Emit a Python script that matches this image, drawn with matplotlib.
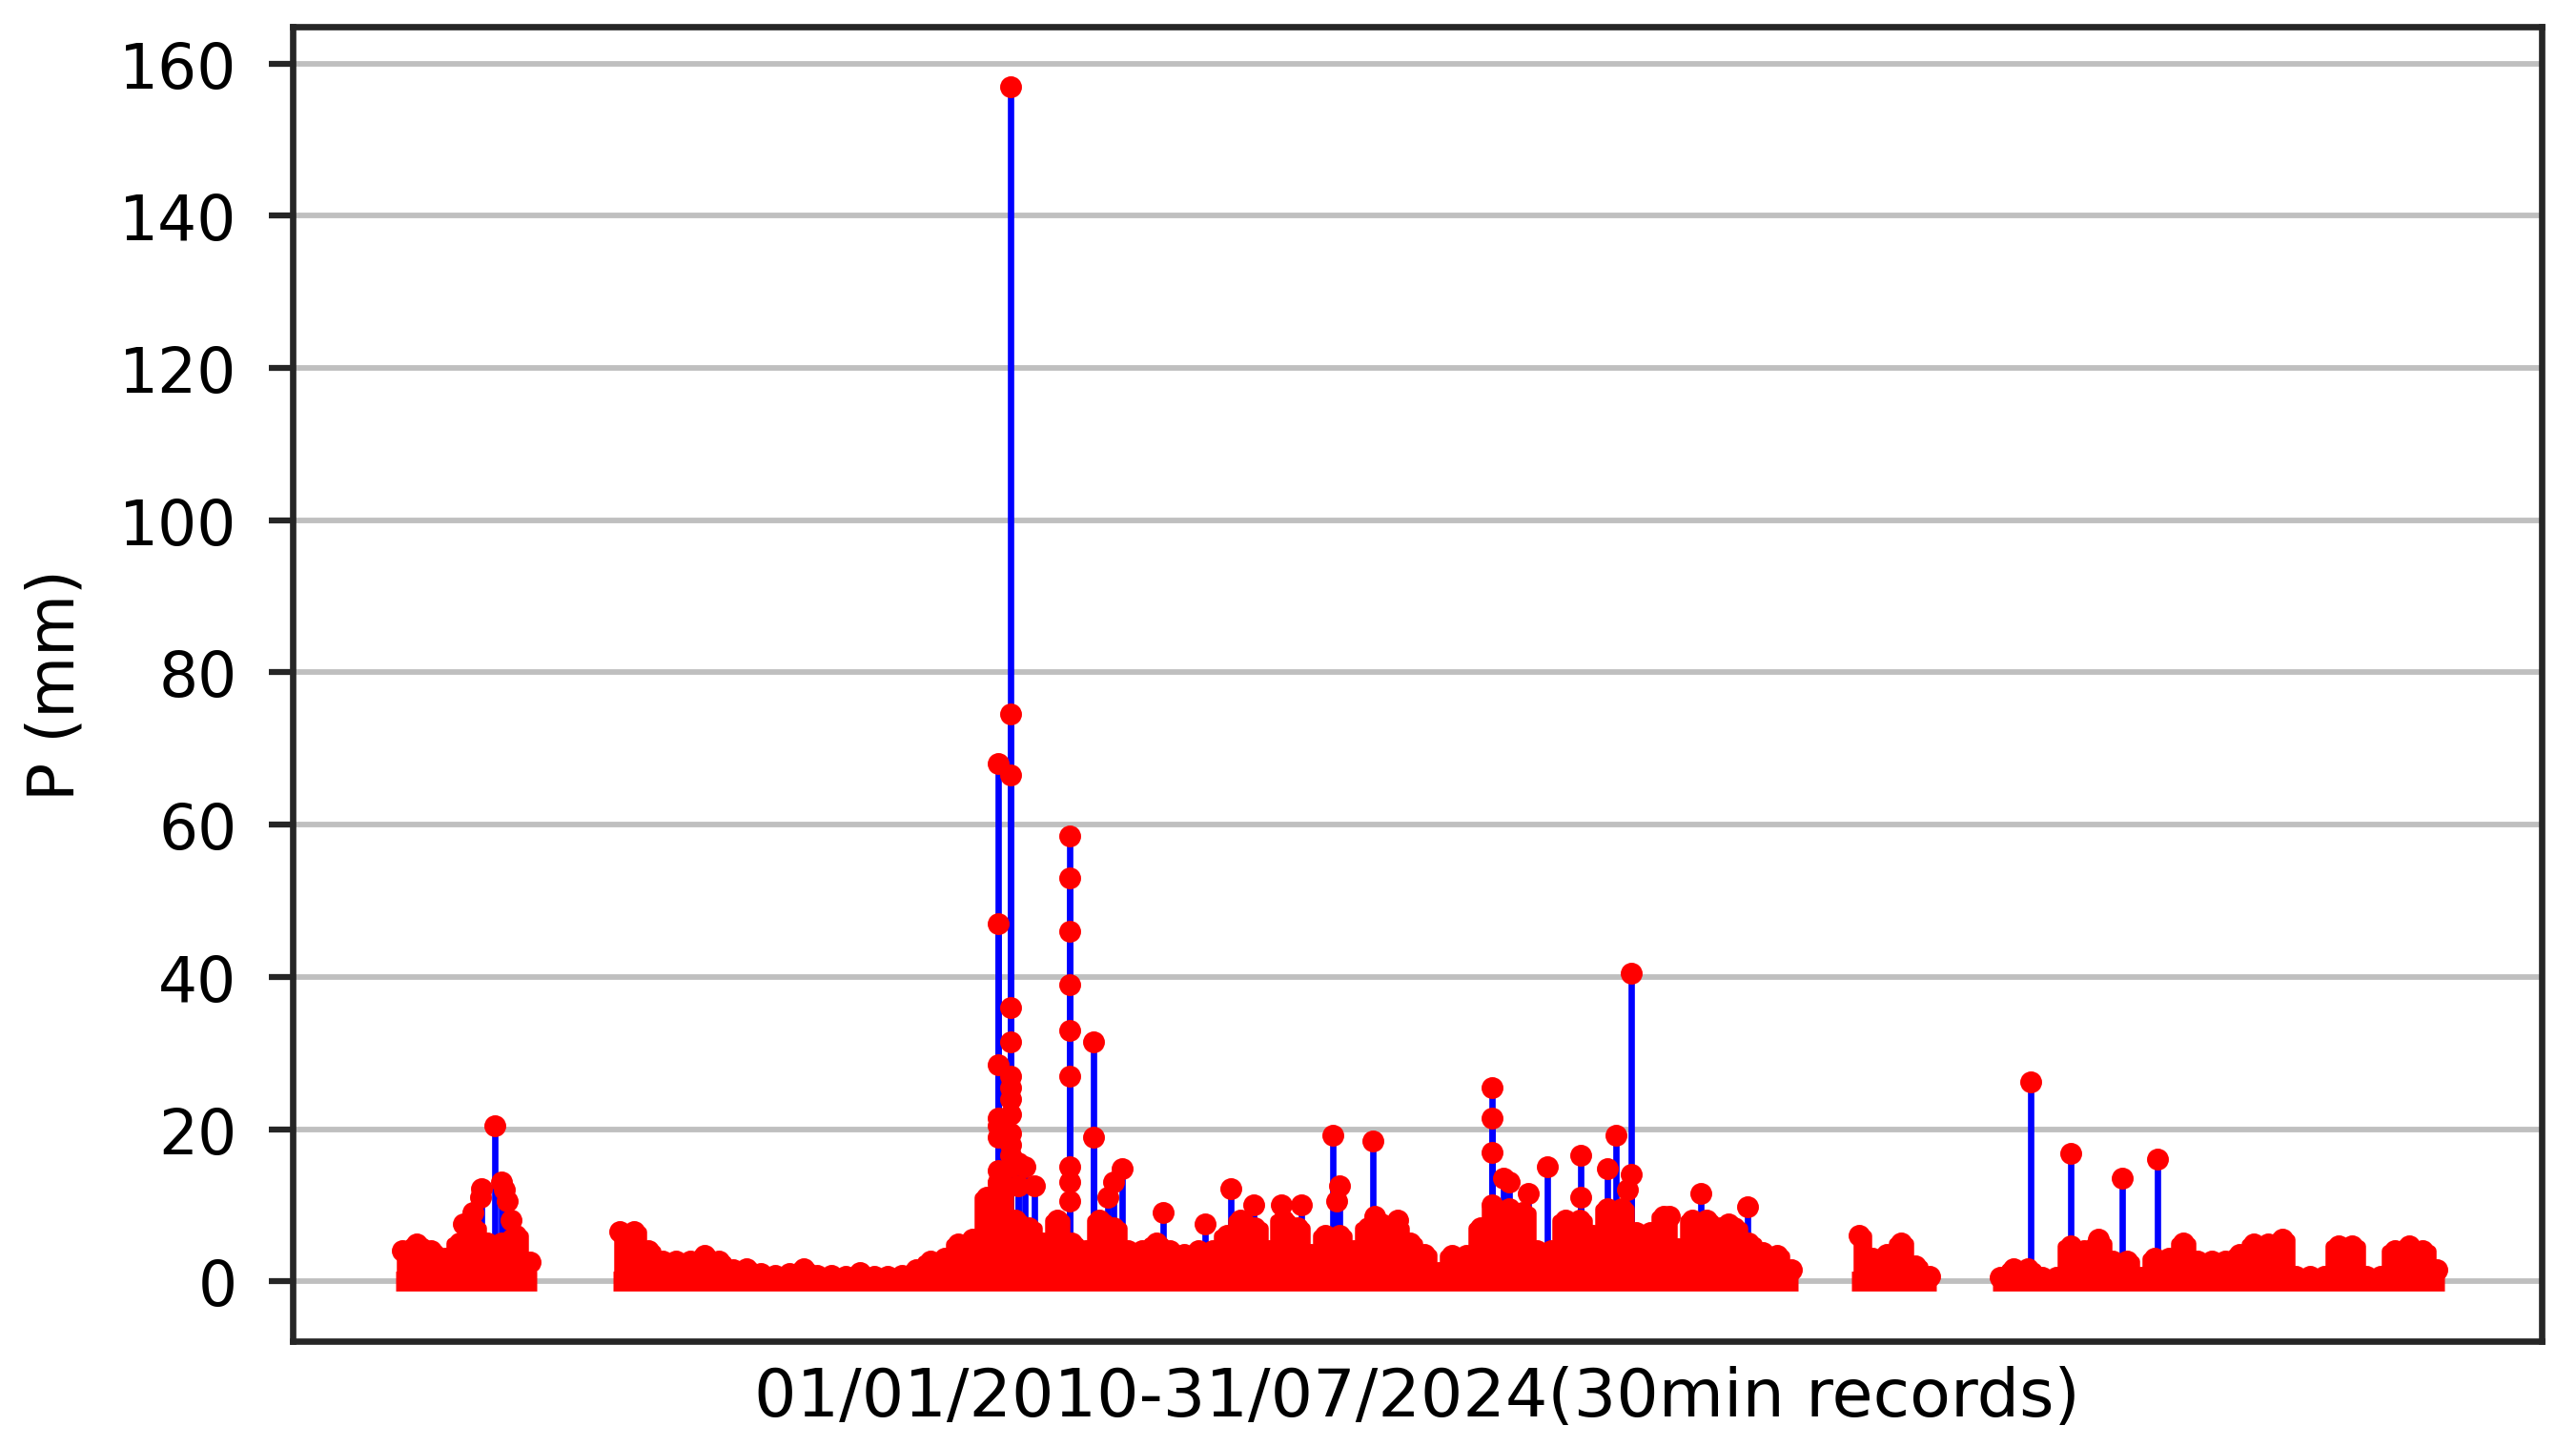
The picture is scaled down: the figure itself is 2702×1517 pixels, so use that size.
import numpy as np
import matplotlib.pyplot as plt

# 30 min rainfall, 01/01/2010 - 31/07/2024, x in decimal years
# the dense low band is kept as its upper envelope (one value per 0.1 year),
# the storms that stick out are kept as separate points
step = 0.1
seg_starts = [2010.08, 2011.62, 2020.40, 2021.40]

seg1_env = [4.0, 4.9, 4.0, 3.0, 5.0, 7.0, 5.0, 5.0, 6.0, 2.5]

seg2_env = [6.5, 6.5, 4.0, 2.6, 2.6, 2.6, 3.4, 2.6, 1.5,
            1.7, 1.0, 0.8, 1.0, 1.7, 0.8, 0.8, 0.6, 1.2, 0.7,
            0.6, 0.8, 1.5, 2.6, 3.0, 4.9, 5.5, 11.0, 13.0, 8.0,
            7.0, 5.0, 8.0, 5.0, 4.0, 8.0, 7.0, 4.0, 4.0, 5.0,
            4.0, 3.5, 4.0, 4.0, 6.0, 8.0, 7.0, 4.0, 8.0, 7.0,
            3.5, 6.0, 6.0, 4.0, 7.0, 7.5, 7.0, 5.0, 3.5, 1.2,
            3.4, 3.4, 7.0, 9.5, 9.5, 9.0, 4.0, 4.0, 8.0, 8.0,
            6.0, 9.5, 9.5, 6.4, 6.4, 8.5, 4.3, 8.0, 8.0, 7.0,
            7.0, 5.0, 3.8, 3.4, 1.5]

seg3_env = [6.0, 3.0, 3.5, 5.0, 2.0, 0.7]

seg4_env = [0.5, 1.7, 1.7, 0.5, 0.5, 4.7, 4.0, 5.0, 2.6, 2.6,
            0.5, 3.0, 3.0, 5.0, 2.6, 2.6, 2.6, 3.5, 4.9, 4.9,
            5.5, 0.7, 0.7, 0.7, 4.7, 4.7, 0.7, 0.7, 4.0, 4.7,
            4.0, 1.5]

spike_years = [2010.51, 2010.58, 2010.63, 2010.64, 2010.73, 2010.78, 2010.80, 2010.82, 2010.85,
               2014.30, 2014.30, 2014.30, 2014.30, 2014.30, 2014.30, 2014.30, 2014.30,
               2014.39, 2014.39, 2014.39, 2014.39, 2014.39, 2014.39, 2014.39, 2014.39,
               2014.39, 2014.39, 2014.39, 2014.39, 2014.39,
               2014.44, 2014.44, 2014.49, 2014.56,
               2014.81, 2014.81, 2014.81, 2014.81, 2014.81, 2014.81, 2014.81, 2014.81, 2014.81,
               2014.98, 2014.98, 2015.08, 2015.12, 2015.18,
               2015.47, 2015.77, 2015.95, 2016.11, 2016.31, 2016.45,
               2016.67, 2016.70, 2016.72, 2016.96, 2016.97, 2017.13,
               2017.80, 2017.80, 2017.80, 2017.80, 2017.88, 2017.92,
               2018.06, 2018.19, 2018.43, 2018.43, 2018.62, 2018.68,
               2018.76, 2018.79, 2018.79, 2019.06, 2019.28, 2019.48, 2019.61,
               2021.62, 2021.90, 2022.10, 2022.27, 2022.52]
spike_values = [7.5, 9.0, 11.0, 12.2, 20.5, 13.0, 12.0, 10.5, 8.0,
                68.0, 47.0, 28.5, 21.5, 20.5, 19.0, 14.5, 13.0,
                157.0, 74.5, 66.5, 36.0, 31.5, 27.0, 25.5, 24.0,
                22.0, 19.5, 18.0, 16.5, 15.0,
                15.5, 12.5, 15.0, 12.6,
                58.5, 53.0, 46.0, 39.0, 33.0, 27.0, 15.0, 13.0, 10.5,
                31.5, 19.0, 11.0, 13.0, 14.8,
                9.0, 7.5, 12.2, 10.0, 10.0, 10.0,
                19.2, 10.5, 12.5, 18.5, 8.5, 8.0,
                25.5, 21.5, 17.0, 10.0, 13.5, 13.0,
                11.5, 15.0, 16.5, 11.0, 14.8, 19.2,
                12.0, 40.5, 14.0, 8.5, 11.5, 7.5, 9.8,
                26.2, 16.8, 5.5, 13.5, 16.0]

envelopes = [seg1_env, seg2_env, seg3_env, seg4_env]

fig = plt.figure(figsize=(2702 / 300, 1518 / 300), dpi=300)
ax = fig.add_axes([0.1136, 0.0725, 0.873, 0.9085])

# storms: blue line down to the band, red dot on top
ax.vlines(spike_years, 0, spike_values, color='#0000ff', lw=1.6, zorder=2)
ax.plot(spike_years, spike_values, 'o', color='#ff0000', ms=4.5, mec='#ff0000', zorder=4)

# the dense band of low values
for start, env in zip(seg_starts, envelopes):
    x = start + step * np.arange(len(env))
    ax.fill_between(x, 0, env, step='mid', color='#ff0000', lw=3, zorder=3)
    ax.plot(x, env, 'o', color='#ff0000', ms=4.5, zorder=4)
    ax.plot([x[0] - step / 2, x[-1] + step / 2], [0, 0], color='#ff0000', lw=5,
            solid_capstyle='butt', zorder=3)

ax.set_xlim(2009.30, 2025.24)
ax.set_xticks([])
ax.set_yticks([0, 20, 40, 60, 80, 100, 120, 140, 160])
ax.tick_params(axis='y', labelsize=15.5, length=6, width=1.5, pad=8, color='#262626')
ax.yaxis.grid(True, color='#bfbfbf', lw=1.4)
ax.set_axisbelow(True)
for s in ax.spines.values():
    s.set_color('#262626')
    s.set_linewidth(1.6)

ax.set_ylabel('P (mm)', fontsize=16, labelpad=8)
ax.set_xlabel('01/01/2010-31/07/2024(30min records)', fontsize=16.8, labelpad=6)

plt.savefig('out.png', dpi=300)
